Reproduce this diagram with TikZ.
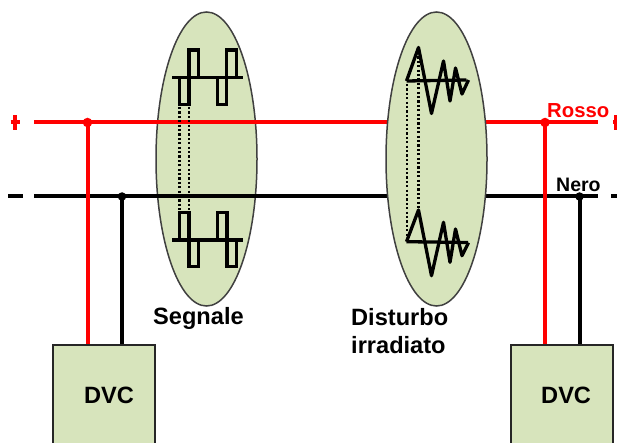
\documentclass[tikz,border=0pt]{standalone}
\usepackage{fontspec}
\setmainfont{Liberation Sans}
\usetikzlibrary{shapes.geometric}
\definecolor{pale}{HTML}{D7E4BC}
\definecolor{rosso}{HTML}{FF0000}
\tikzset{
  x=1pt,y=-1pt,
  blob/.style={draw=black!75,line width=1.5pt,fill=pale},
  unitbox/.style={draw=black!85,line width=1.7pt,fill=pale,minimum width=102pt,minimum height=110pt,inner sep=0pt},
  redwire/.style={draw=rosso,line width=4pt},
  blackwire/.style={draw=black,line width=4pt},
  wave/.style={draw=black,line width=3.3pt,line join=miter},
  spur/.style={draw=black,line width=3.3pt,line join=round},
  dots/.style={draw=black,line width=2.8pt,dash pattern=on 2.2pt off 2.2pt},
  lab/.style={font=\fontsize{23.6}{26}\selectfont\bfseries,inner sep=0pt},
  joint/.style={circle,fill=#1,inner sep=0pt,minimum size=9.5pt},
}
\begin{document}
\begin{tikzpicture}
\clip (0,0) rectangle (617,443);
\useasboundingbox (0,0) rectangle (617,443);
\fill[white] (0,0) rectangle (617,443);
% wires
\coordinate (rl) at (34,122.5); \coordinate (rr) at (598,122.5);
\coordinate (bl) at (34,196.5); \coordinate (br) at (598,196.5);
\node[unitbox,anchor=north west] (dvcL) at (52,344) {};
\node[unitbox,anchor=north west] (dvcR) at (510,344) {};
\node[joint=rosso] (j1) at (87.5,122.5) {};
\node[joint=black,minimum size=8.5pt] (j2) at (122,196.5) {};
\node[joint=rosso] (j3) at (545,122.5) {};
\node[joint=black,minimum size=8.5pt] (j4) at (579.5,196.5) {};
\coordinate (b1a) at (87.5,344); \coordinate (b1b) at (122,344);
\coordinate (b2a) at (545,344); \coordinate (b2b) at (579.5,344);
\draw[blackwire] (bl) -- (br);
\draw[redwire] (rl) -- (rr);
\draw[blackwire] (j2.center) -- (b1b);
\draw[blackwire] (j4.center) -- (b2b);
\draw[redwire] (j1.center) -- (b1a);
\draw[redwire] (j3.center) -- (b2a);
% ellipses
\node[ellipse,blob,minimum width=101pt,minimum height=294pt,inner sep=0pt] (segE) at (206.5,159) {};
\node[ellipse,blob,minimum width=101pt,minimum height=294pt,inner sep=0pt] (disE) at (436.5,159) {};
\draw[redwire] (segE.west|-rl) -- (segE.east|-rl);
\draw[blackwire] (segE.west|-bl) -- (segE.east|-bl);
% terminals
\draw[redwire] (10.5,122.5) -- (20,122.5);
\draw[redwire] (15.2,115.5) -- (15.2,130);
\draw[blackwire] (8,196.5) -- (22.5,196.5);
\draw[redwire] (613,122.5) -- (617,122.5);
\draw[redwire] (616,115.5) -- (616,130);
\draw[blackwire] (611,196.5) -- (617,196.5);
% signal
\draw[wave] (172,77.5) -- (243,77.5);
\draw[wave] (179.5,77.5) |- (189,104.5) |- (198.5,50) -- (198.5,77.5);
\draw[wave] (217.5,77.5) |- (226.5,104.5) |- (236.5,50) -- (236.5,77.5);
\draw[wave] (172,240) -- (243,240);
\draw[wave] (179.5,240) |- (189,212.5) |- (198.5,266.5) -- (198.5,240);
\draw[wave] (217.5,240) |- (227,212.5) |- (236.5,266.5) -- (236.5,240);
\draw[dots] (179.5,107) -- (179.5,211);
\draw[dots] (189,107) -- (189,211);
% disturbance
\draw[wave] (406.5,81) -- (466.5,80);
\draw[spur] (406.5,81) -- (418.5,47.5) -- (431.5,113.5) -- (443.5,61) -- (450,101) -- (455.5,68) -- (462,94) -- (468.5,80);
\draw[wave] (406.5,241.7) -- (468,242.5);
\draw[spur] (406.5,241.7) -- (418.5,210) -- (431.5,275.7) -- (443.5,222.3) -- (450,262.3) -- (455.5,229) -- (462,255.7) -- (468.5,242.7);
\draw[dots] (407,84) -- (407,240);
\draw[dots] (418.5,52) -- (418.5,208);
% labels
\node[lab,anchor=base west] (t1) at (153,324) {Segnale};
\node[lab,anchor=base west] (t2) at (351,325) {Disturbo};
\node[lab,anchor=base west] (t3) at (351,353) {irradiato};
\node[lab,anchor=base west] (t4) at (84,403) {DVC};
\node[lab,anchor=base west] (t5) at (541,403) {DVC};
\node[lab,anchor=base west,text=rosso,font=\fontsize{20.3}{24}\selectfont\bfseries] (t6) at (547,118) {Rosso};
\node[lab,anchor=base west,font=\fontsize{19.5}{24}\selectfont\bfseries] (t7) at (556,192) {Nero};
\end{tikzpicture}
\end{document}
